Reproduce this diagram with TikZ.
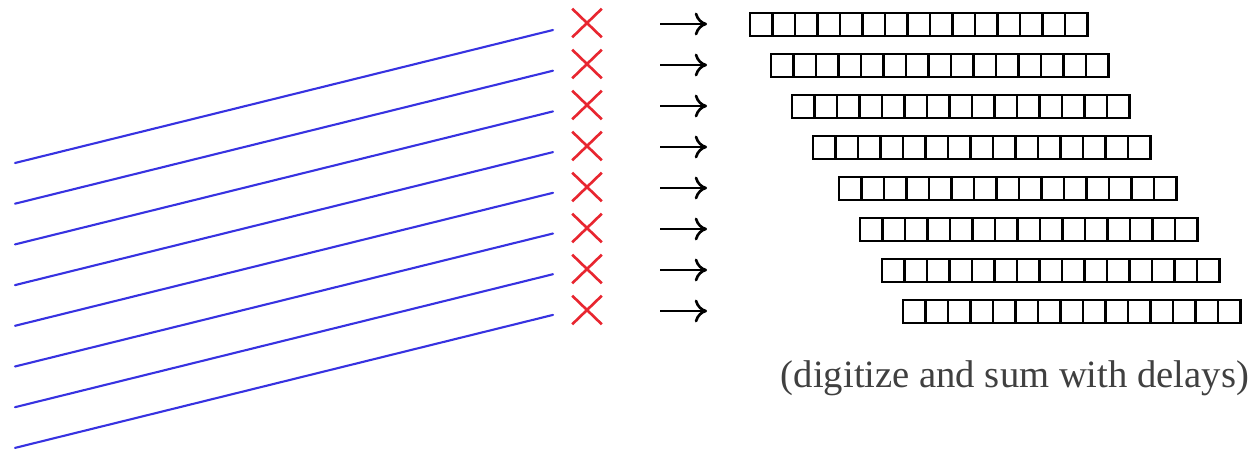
\documentclass[tikz,border=0pt]{standalone}
\usepackage{fontspec}
\setmainfont{Liberation Serif}
\usetikzlibrary{shapes.misc,arrows.meta}
\definecolor{beamblue}{RGB}{55,50,225}
\definecolor{markred}{RGB}{232,38,48}
\tikzset{
  beam/.style={line width=1.2pt, draw=beamblue, line cap=round},
  crossmark/.style={cross out, draw=markred, line width=1.5pt, minimum width=0.54cm, minimum height=0.52cm, inner sep=0pt},
  feed/.style={line width=1.5pt, -{Computer Modern Rightarrow[length=7pt,width=13pt]}},
  cell/.style={draw=black, line width=1.4pt, minimum width=0.45cm, minimum height=0.46cm, inner sep=0pt},
  caption/.style={font=\fontsize{22}{26}\selectfont, text=black!75},
}

\begin{document}
\begin{tikzpicture}[x=0.02cm, y=-0.02cm]
\useasboundingbox (0,0) rectangle (1255,450);
\foreach \i in {0,...,7} {
  \coordinate (beamL-\i) at (15,{163+40.7*\i});
  \coordinate (beamR-\i) at (553,{30+40.7*\i});
  \draw[beam] (beamL-\i) -- (beamR-\i);
}
\foreach \i/\xs in {0/750,1/771,2/792,3/813,4/839,5/860,6/882,7/903} {
  \node[crossmark] (xmark-\i) at (587,{23+41*\i}) {};
  \coordinate (feedS-\i) at (660,{24+41*\i});
  \coordinate (feedE-\i) at (707,{24+41*\i});
  \draw[feed] (feedS-\i) -- (feedE-\i);
  \foreach \j in {0,...,14}
    \node[cell] (cell-\i-\j) at ({\xs+11.25+22.5*\j},{24.5+41*\i}) {};
}
\node[caption] (caption) at (1015,378) {(digitize and sum with delays)};
\end{tikzpicture}
\end{document}
